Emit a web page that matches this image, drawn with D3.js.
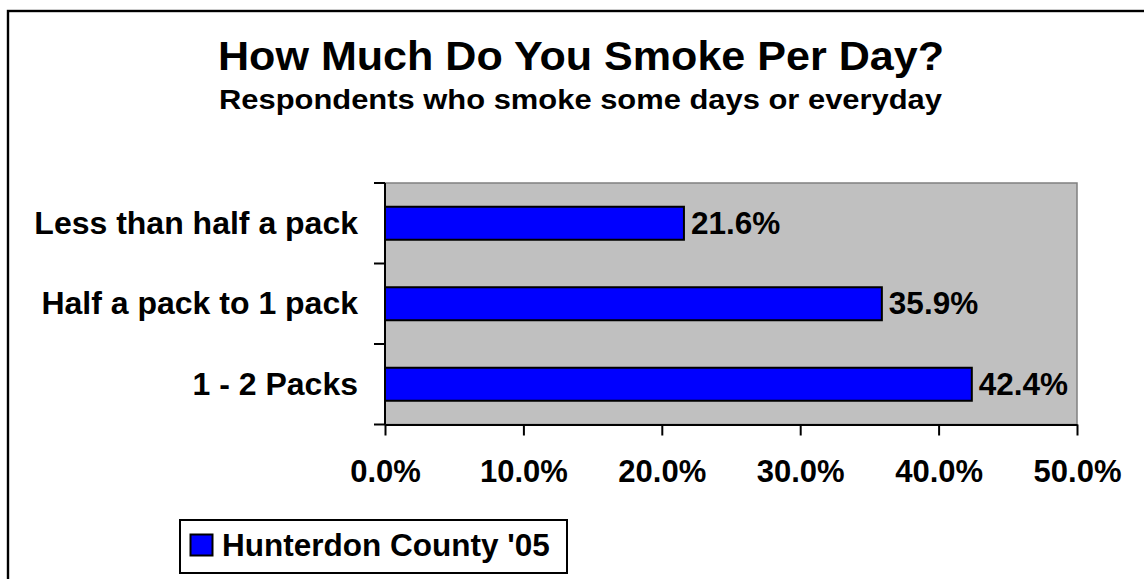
<!DOCTYPE html>
<html>
<head>
<meta charset="utf-8">
<script src="https://cdn.jsdelivr.net/npm/d3@7"></script>
<style>
  body { margin: 0; background: #fff; }
  svg text { font-family: "Liberation Sans", Arial, sans-serif; font-weight: bold; fill: #000; }
</style>
</head>
<body>
<div id="chart"></div>
<script>
// chart data
var categories = ["Less than half a pack", "Half a pack to 1 pack", "1 - 2 Packs"];
var values = [21.6, 35.9, 42.4];
var xTicks = [0, 10, 20, 30, 40, 50];
var seriesName = "Hunterdon County '05";

var width = 1144;
var height = 579;

var plot = { left: 385, top: 183, right: 1077, bottom: 424.5 };

var svg = d3.select("#chart")
    .append("svg")
    .attr("width", width)
    .attr("height", height);

// outer frame (runs off the right/bottom of the picture)
svg.append("rect")
    .attr("x", 8)
    .attr("y", 11)
    .attr("width", 1160)
    .attr("height", 600)
    .attr("fill", "none")
    .attr("stroke", "#000")
    .attr("stroke-width", 2.4);

svg.append("text")
    .attr("x", 218)
    .attr("y", 70)
    .attr("textLength", 726)
    .attr("lengthAdjust", "spacingAndGlyphs")
    .style("font-size", "40px")
    .text("How Much Do You Smoke Per Day?");

svg.append("text")
    .attr("x", 219)
    .attr("y", 109)
    .attr("textLength", 723)
    .attr("lengthAdjust", "spacingAndGlyphs")
    .style("font-size", "28px")
    .text("Respondents who smoke some days or everyday");

var x_scale = d3.scaleLinear()
    .domain([0, 50])
    .range([plot.left, plot.right]);

var y_scale = d3.scaleBand()
    .domain(categories)
    .range([plot.top, plot.bottom])
    .paddingInner(0.59)
    .paddingOuter(0.295);

// plot area
svg.append("rect")
    .attr("x", plot.left)
    .attr("y", plot.top)
    .attr("width", plot.right - plot.left)
    .attr("height", plot.bottom - plot.top)
    .attr("fill", "#c0c0c0")
    .attr("stroke", "#808080")
    .attr("stroke-width", 1.5);

// bars
svg.selectAll(".bar")
    .data(values)
    .enter()
    .append("rect")
    .attr("class", "bar")
    .attr("x", x_scale(0))
    .attr("y", function(d, i) { return y_scale(categories[i]); })
    .attr("width", function(d) { return x_scale(d) - x_scale(0); })
    .attr("height", y_scale.bandwidth())
    .attr("fill", "#0000ff")
    .attr("stroke", "#000")
    .attr("stroke-width", 2);

// value labels
svg.selectAll(".val")
    .data(values)
    .enter()
    .append("text")
    .attr("class", "val")
    .attr("x", function(d) { return x_scale(d) + 7; })
    .attr("y", function(d, i) { return y_scale(categories[i]) + y_scale.bandwidth() / 2 + 10.5; })
    .style("font-size", "31.5px")
    .text(function(d) { return d.toFixed(1) + "%"; });

// x axis
var x_axis = svg.append("g")
    .attr("class", "x axis")
    .attr("transform", "translate(0," + plot.bottom + ")")
    .call(d3.axisBottom(x_scale)
        .tickValues(xTicks)
        .tickSize(11)
        .tickSizeOuter(0)
        .tickFormat(function(d) { return d.toFixed(1) + "%"; }));

x_axis.select(".domain").attr("stroke", "#000").attr("stroke-width", 2);
x_axis.selectAll(".tick line").attr("stroke", "#000").attr("stroke-width", 2);
x_axis.selectAll(".tick text")
    .attr("y", 57.5)
    .attr("dy", null)
    .style("font-size", "31px")
    .attr("font-family", null);

// y axis: line, ticks at band boundaries, labels at band centres
var step = y_scale.step();
var half = step * y_scale.paddingInner() / 2;
var bounds = categories.map(function(c) { return y_scale(c) - half; });
bounds.push(plot.bottom);

svg.append("line")
    .attr("x1", plot.left)
    .attr("x2", plot.left)
    .attr("y1", plot.top)
    .attr("y2", plot.bottom)
    .attr("stroke", "#000")
    .attr("stroke-width", 2);

svg.selectAll(".ytick")
    .data(bounds)
    .enter()
    .append("line")
    .attr("class", "ytick")
    .attr("x1", plot.left - 11)
    .attr("x2", plot.left)
    .attr("y1", function(d) { return d; })
    .attr("y2", function(d) { return d; })
    .attr("stroke", "#000")
    .attr("stroke-width", 2);

svg.selectAll(".cat")
    .data(categories)
    .enter()
    .append("text")
    .attr("class", "cat")
    .attr("x", 358)
    .attr("y", function(d) { return y_scale(d) + y_scale.bandwidth() / 2 + 10.5; })
    .attr("text-anchor", "end")
    .style("font-size", "32px")
    .text(function(d) { return d; });

// legend
var legend = svg.append("g");
legend.append("rect")
    .attr("x", 180)
    .attr("y", 520)
    .attr("width", 387)
    .attr("height", 53)
    .attr("fill", "#fff")
    .attr("stroke", "#000")
    .attr("stroke-width", 2);
legend.append("rect")
    .attr("x", 190.5)
    .attr("y", 534.5)
    .attr("width", 22)
    .attr("height", 21)
    .attr("fill", "#0000ff")
    .attr("stroke", "#000")
    .attr("stroke-width", 2);
legend.append("text")
    .attr("x", 222)
    .attr("y", 556)
    .style("font-size", "31.5px")
    .text(seriesName);
</script>
</body>
</html>
